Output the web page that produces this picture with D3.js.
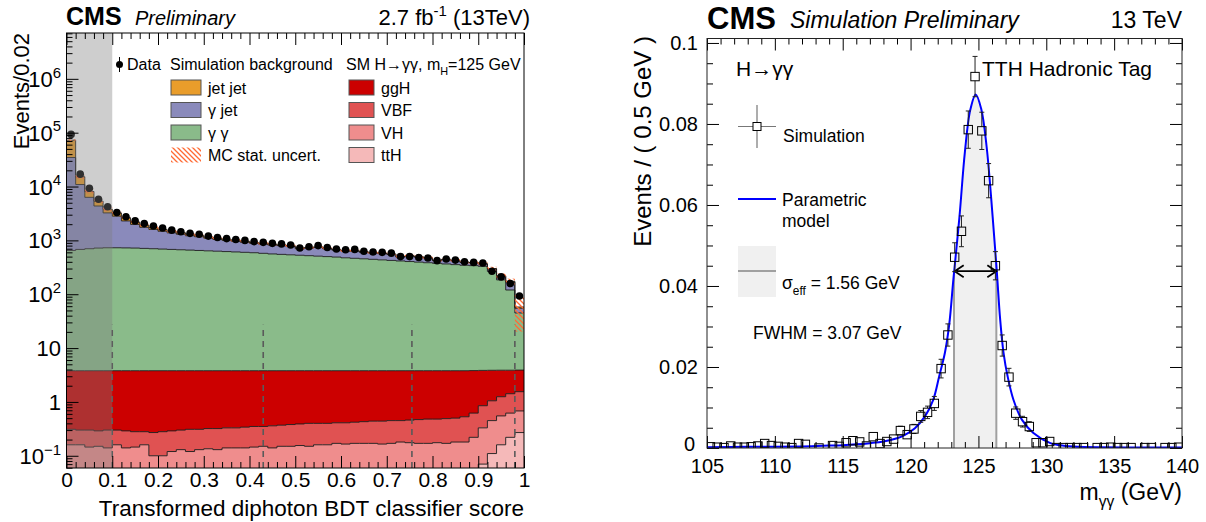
<!DOCTYPE html>
<html>
<head>
<meta charset="utf-8">
<script src="https://cdn.jsdelivr.net/npm/d3@7"></script>
<style>
  body { margin: 0; background: #fff; }
  svg text { font-family: "Liberation Sans", Arial, Helvetica, sans-serif; fill: #000; }
</style>
</head>
<body>
<svg id="chart" width="1206" height="522"></svg>
<script>
// ---------------- left panel: BDT score, 50 bins of 0.02 ----------------
const bdtData = [93000, 17000, 9300, 5800, 4200, 3300, 2750, 2300, 2050, 1850,
  1700, 1550, 1450, 1350, 1300, 1200, 1130, 1080, 1040, 1000,
  950, 920, 880, 860, 820, 720, 760, 800, 740, 690,
  670, 680, 630, 610, 600, 580, 500, 500, 480, 470,
  420, 450, 430, 400, 390, 380, 268, 210, 158, 93];

const jetJet = [38000, 4300, 1800, 1000, 560, 420, 340, 220, 180, 150,
  120, 100, 90, 80, 70, 60, 55, 50, 45, 40,
  35, 30, 28, 26, 24, 22, 20, 18, 17, 16,
  15, 14, 13, 12, 11, 10, 9, 9, 8, 8,
  7, 7, 6, 6, 5, 5, 5, 5, 6, 3];
const gammaJet = [33950, 10220, 5600, 3630, 2510, 2090, 1575, 1260, 1040, 900,
  790, 700, 630, 560, 520, 460, 410, 380, 350, 320,
  290, 275, 260, 250, 230, 170, 200, 230, 200, 170,
  155, 165, 145, 135, 135, 125, 75, 105, 95, 85,
  45, 75, 65, 45, 45, 35, 30, 30, 48, 10];
const gammaGamma = [646, 676, 696, 716, 726, 726, 721, 716, 706, 696,
  686, 676, 666, 656, 646, 636, 626, 616, 606, 596,
  586, 571, 556, 546, 536, 526, 516, 506, 496, 486,
  471, 461, 451, 441, 431, 421, 411, 401, 391, 381,
  371, 361, 351, 341, 336, 326, 261, 181, 116, 41];
const ggH = [3.49, 3.50, 3.50, 3.51, 3.50, 3.50, 3.51, 3.52, 3.52, 3.53,
  3.52, 3.51, 3.50, 3.49, 3.49, 3.48, 3.48, 3.47, 3.47, 3.46,
  3.45, 3.45, 3.44, 3.43, 3.42, 3.41, 3.40, 3.40, 3.40, 3.39,
  3.39, 3.38, 3.37, 3.36, 3.36, 3.35, 3.35, 3.34, 3.33, 3.32,
  3.32, 3.31, 3.30, 3.27, 3.20, 3.00, 2.82, 2.63, 2.46, 2.35];
const vbf = [0.15, 0.14, 0.155, 0.14, 0.16, 0.14, 0.15, 0.135, 0.12, 0.17,
  0.18, 0.17, 0.17, 0.19, 0.18, 0.185, 0.19, 0.19, 0.19, 0.20,
  0.205, 0.20, 0.22, 0.22, 0.23, 0.235, 0.25, 0.24, 0.24, 0.24,
  0.245, 0.25, 0.26, 0.27, 0.275, 0.28, 0.27, 0.285, 0.30, 0.31,
  0.305, 0.32, 0.32, 0.35, 0.40, 0.52, 0.60, 0.70, 0.80, 0.87];
const vh = [0.13, 0.13, 0.115, 0.12, 0.11, 0.13, 0.11, 0.115, 0.13, 0.07,
  0.07, 0.09, 0.10, 0.09, 0.10, 0.105, 0.10, 0.11, 0.11, 0.11,
  0.115, 0.12, 0.11, 0.12, 0.12, 0.125, 0.12, 0.13, 0.13, 0.14,
  0.135, 0.14, 0.14, 0.14, 0.135, 0.14, 0.15, 0.145, 0.14, 0.14,
  0.14, 0.135, 0.14, 0.135, 0.17, 0.26, 0.34, 0.39, 0.40, 0.41];
const ttH = [0.03, 0.03, 0.03, 0.03, 0.03, 0.03, 0.03, 0.03, 0.03, 0.03,
  0.03, 0.03, 0.03, 0.03, 0.03, 0.03, 0.03, 0.03, 0.03, 0.03,
  0.03, 0.03, 0.03, 0.03, 0.03, 0.03, 0.03, 0.03, 0.03, 0.03,
  0.03, 0.03, 0.03, 0.03, 0.03, 0.03, 0.03, 0.03, 0.03, 0.03,
  0.035, 0.035, 0.04, 0.045, 0.05, 0.07, 0.11, 0.16, 0.22, 0.27];
// relative MC statistical uncertainty on the stack total
const mcStatRel = [0.04, 0.08, 0.08, 0.08, 0.08, 0.05, 0.05, 0.05, 0.05, 0.05,
  0.05, 0.05, 0.05, 0.05, 0.05, 0.05, 0.05, 0.05, 0.05, 0.05,
  0.05, 0.05, 0.05, 0.05, 0.05, 0.05, 0.05, 0.05, 0.05, 0.05,
  0.05, 0.05, 0.05, 0.05, 0.05, 0.05, 0.05, 0.05, 0.05, 0.05,
  0.05, 0.05, 0.05, 0.05, 0.06, 0.07, 0.08, 0.10, 0.12, 0.65];
const categoryCuts = [0.1, 0.43, 0.755, 0.98];
const blindedRange = [0, 0.1];
const leftYTicks = [0.1, 1, 10, 100, 1e3, 1e4, 1e5, 1e6];

// ---------------- right panel: m_gg, 70 bins of 0.5 GeV ----------------
const simMass = d3.range(105.25, 140, 0.5);
const simValues = [0.0003, 0.0002, 0.0001, 0.0005, 0.0002, 0.0002, 0.0003, 0.0005, 0.0011, 0.0006,
  0.0004, 0.0002, 0.0001, 0.0011, 0.0009, null, 0, null, 0.0006, 0.0004,
  0.0013, 0.0018, 0.0015, 0.0005, 0.0028, 0.0011, 0.0016, 0.0022, 0.0043, 0.0033,
  0.0047, 0.0078, 0.0088, 0.0110, 0.0196, 0.0279, 0.0471, 0.0535, 0.0786, 0.0917,
  0.0783, 0.0660, 0.0450, 0.0253, 0.0175, 0.0086, 0.0065, 0.0053, 0.0013, 0.0013,
  0.0016, 0.0001, 0.0001, 0.0001, 0.0001, 0.0001, null, 0.0001, 0.0001, 0.0002,
  0.0001, 0.0001, 0.0001, null, 0.0001, 0.0001, null, 0.0001, 0.0001, 0.0002];
const simEventWeight = 2.7e-4; // error = sqrt(content * weight)

// parametric model
const modelMass = [105, 108, 110, 112, 114, 115, 116, 117, 118, 119, 119.45, 120.32, 121.06, 121.67,
  122.11, 122.53, 122.85, 123.15, 123.6, 124.0, 124.4, 124.8, 125.2, 125.6, 126.05, 126.35,
  126.6, 126.85, 127.15, 127.58, 128.2, 129.05, 130.3, 131, 132, 134, 137, 140];
const modelValues = [0.0002, 0.0003, 0.0003, 0.0004, 0.0006, 0.0007, 0.0009, 0.0012, 0.0016, 0.0024, 0.0030, 0.0049, 0.0078, 0.0119,
  0.0177, 0.0235, 0.0305, 0.0415, 0.0570, 0.0730, 0.0835, 0.0873, 0.0838, 0.0745, 0.0570, 0.0438,
  0.0318, 0.0235, 0.0177, 0.0119, 0.0070, 0.0037, 0.0012, 0.0007, 0.0004, 0.0002, 0.0001, 0.0001];
const sigmaEffRange = [123.2, 126.32];
const fwhmRange = [123.25, 126.32];
const rightXTicks = [105, 110, 115, 120, 125, 130, 135, 140];
const rightYTicks = [0, 0.02, 0.04, 0.06, 0.08, 0.1];

const svg = d3.select('#chart');
const defs = svg.append('defs');

// text with sub/superscripts
function addText(parent, x, y, parts, size, anchor, style) {
  const t = parent.append('text')
    .attr('x', x).attr('y', y)
    .attr('font-size', size)
    .attr('text-anchor', anchor || 'start');
  if (style) Object.keys(style).forEach(k => t.attr(k, style[k]));
  let shift = 0;
  parts.forEach(p => {
    const s = typeof p === 'string' ? { t: p } : p;
    const target = s.sub ? size * 0.32 : s.sup ? -size * 0.42 : 0;
    t.append('tspan')
      .attr('dy', target - shift)
      .attr('font-size', s.sub || s.sup ? size * 0.68 : size)
      .text(s.t);
    shift = target;
  });
  return t;
}

function styleTicks(g) {
  g.selectAll('.tick line').attr('stroke', '#000').attr('stroke-width', 1);
  g.select('.domain').remove();
}

// =================== LEFT PANEL ===================
const L = { left: 66.5, right: 524, top: 33, bottom: 468 };
const xL = d3.scaleLinear().domain([0, 1]).range([L.left, L.right]);
const yL = d3.scaleLog().domain([0.0593, 7.1e6]).range([L.bottom, L.top]);
const yFloor = yL.domain()[0] / 3;
const binW = 1 / bdtData.length;

defs.append('clipPath').attr('id', 'clipL')
  .append('rect').attr('x', L.left).attr('y', L.top)
  .attr('width', L.right - L.left).attr('height', L.bottom - L.top);

// hatch for MC stat. uncertainty
const hatch = defs.append('pattern').attr('id', 'hatch')
  .attr('patternUnits', 'userSpaceOnUse').attr('width', 5).attr('height', 5);
hatch.append('path').attr('d', 'M-1,-1 L6,6 M-1,4 L1,6 M4,-1 L6,1')
  .attr('stroke', '#ff6a33').attr('stroke-width', 1.3);

const stackKeys = ['tth', 'vh', 'vbf', 'ggh', 'gg', 'gj', 'jj'];
const stackSource = { tth: ttH, vh: vh, vbf: vbf, ggh: ggH, gg: gammaGamma, gj: gammaJet, jj: jetJet };
const stackColor = {
  tth: '#f5b9b9', vh: '#ef8d8d', vbf: '#e05252', ggh: '#cc0000',
  gg: '#8abb8a', gj: '#8a8abb', jj: '#e99d2b'
};
const rows = bdtData.map((_, i) => {
  const r = {};
  stackKeys.forEach(k => (r[k] = stackSource[k][i]));
  return r;
});
const stacked = d3.stack().keys(stackKeys)(rows);

const steps = s => s.flatMap((d, i) => [
  { x: i * binW, lo: d[0], hi: d[1] },
  { x: (i + 1) * binW, lo: d[0], hi: d[1] }
]);
const clampL = v => Math.max(v, yFloor);
const areaL = d3.area()
  .x(d => xL(d.x))
  .y0(d => yL(clampL(d.lo)))
  .y1(d => yL(clampL(d.hi)));
const lineL = d3.line()
  .x(d => xL(d.x))
  .y(d => yL(clampL(d.hi)));

const plotL = svg.append('g').attr('clip-path', 'url(#clipL)');

plotL.selectAll('.stack')
  .data(stacked)
  .join('path')
  .attr('class', 'stack')
  .attr('d', s => areaL(steps(s)))
  .attr('fill', s => stackColor[s.key]);

plotL.selectAll('.stackline')
  .data(stacked)
  .join('path')
  .attr('class', 'stackline')
  .attr('d', s => lineL(steps(s)))
  .attr('fill', 'none')
  .attr('stroke', '#1a1a1a')
  .attr('stroke-width', 0.9);

// MC stat uncertainty band around stack total
const totals = stacked[stacked.length - 1].map(d => d[1]);
plotL.selectAll('.unc')
  .data(totals)
  .join('rect')
  .attr('class', 'unc')
  .attr('x', (d, i) => xL(i * binW))
  .attr('width', xL(binW) - xL(0))
  .attr('y', (d, i) => yL(d * (1 + mcStatRel[i])))
  .attr('height', (d, i) => yL(d * (1 - mcStatRel[i])) - yL(d * (1 + mcStatRel[i])))
  .attr('fill', 'url(#hatch)');

// category boundaries
plotL.selectAll('.cut')
  .data(categoryCuts)
  .join('line')
  .attr('class', 'cut')
  .attr('x1', d => xL(d)).attr('x2', d => xL(d))
  .attr('y1', L.bottom).attr('y2', yL(27))
  .attr('stroke', '#5a5a5a')
  .attr('stroke-width', 1.6)
  .attr('stroke-dasharray', '6,5');

// data with poisson error bars
const dataG = plotL.append('g');
dataG.selectAll('line')
  .data(bdtData)
  .join('line')
  .attr('x1', (d, i) => xL((i + 0.5) * binW))
  .attr('x2', (d, i) => xL((i + 0.5) * binW))
  .attr('y1', d => yL(d + Math.sqrt(d)))
  .attr('y2', d => yL(d - Math.sqrt(d)))
  .attr('stroke', '#000').attr('stroke-width', 1);
dataG.selectAll('circle')
  .data(bdtData)
  .join('circle')
  .attr('cx', (d, i) => xL((i + 0.5) * binW))
  .attr('cy', d => yL(d))
  .attr('r', 3.8)
  .attr('fill', '#000');

// blinded / control region shading
plotL.append('rect')
  .attr('x', xL(blindedRange[0]))
  .attr('width', xL(blindedRange[1]) - xL(blindedRange[0]))
  .attr('y', L.top).attr('height', L.bottom - L.top)
  .attr('fill', '#7f7f7f').attr('opacity', 0.38);

// axes
const xMajorL = d3.range(0, 11).map(i => i / 10);
const xMinorL = d3.range(0, 51).map(i => i / 50).filter((d, i) => i % 5 !== 0);
svg.append('g').attr('transform', `translate(0,${L.bottom})`)
  .call(d3.axisBottom(xL).tickValues(xMajorL).tickSize(-12).tickPadding(4)
    .tickFormat(d => d3.format('~g')(+d.toFixed(1))))
  .call(styleTicks)
  .call(g => g.selectAll('text').attr('font-size', 21).attr('font-family', null));
svg.append('g').attr('transform', `translate(0,${L.bottom})`)
  .call(d3.axisBottom(xL).tickValues(xMinorL).tickSize(-6).tickFormat(''))
  .call(styleTicks);
svg.append('g').attr('transform', `translate(0,${L.top})`)
  .call(d3.axisTop(xL).tickValues(xMajorL).tickSize(-12).tickFormat(''))
  .call(styleTicks);
svg.append('g').attr('transform', `translate(0,${L.top})`)
  .call(d3.axisTop(xL).tickValues(xMinorL).tickSize(-6).tickFormat(''))
  .call(styleTicks);

const yMinorL = [];
d3.range(-2, 7).forEach(e => d3.range(2, 10).forEach(m => {
  const v = m * Math.pow(10, e);
  if (v > yL.domain()[0] && v < yL.domain()[1]) yMinorL.push(v);
}));
svg.append('g').attr('transform', `translate(${L.left},0)`)
  .call(d3.axisLeft(yL).tickValues(leftYTicks).tickSize(-12).tickFormat(''))
  .call(styleTicks);
svg.append('g').attr('transform', `translate(${L.left},0)`)
  .call(d3.axisLeft(yL).tickValues(yMinorL).tickSize(-6).tickFormat(''))
  .call(styleTicks);

const yLabelsL = svg.append('g');
leftYTicks.forEach(v => {
  const e = Math.round(Math.log10(v));
  let parts;
  if (e === 0) parts = ['1'];
  else if (e === 1) parts = ['10'];
  else parts = ['10', { t: e < 0 ? '\u2212' + (-e) : String(e), sup: true }];
  addText(yLabelsL, 61, yL(v) + 8, parts, 22, 'end');
});

svg.append('rect')
  .attr('x', L.left).attr('y', L.top)
  .attr('width', L.right - L.left).attr('height', L.bottom - L.top)
  .attr('fill', 'none').attr('stroke', '#000').attr('stroke-width', 1);

// titles
addText(svg, 66, 25, ['CMS'], 25, 'start', { 'font-weight': 'bold' });
addText(svg, 135, 25, ['Preliminary'], 20, 'start', { 'font-style': 'italic' });
addText(svg, 530, 25, ['2.7 fb', { t: '-1', sup: true }, ' (13TeV)'], 22, 'end');
addText(svg, 524, 516, ['Transformed diphoton BDT classifier score'], 22.5, 'end');
addText(svg, 0, 0, ['Events/0.02'], 22, 'end')
  .attr('transform', 'translate(29,33) rotate(-90)');

// legend
const legL = svg.append('g');
legL.append('line').attr('x1', 119.5).attr('x2', 119.5).attr('y1', 57).attr('y2', 72)
  .attr('stroke', '#000');
legL.append('circle').attr('cx', 119.5).attr('cy', 64.5).attr('r', 3.5).attr('fill', '#000');
addText(legL, 127, 70, ['Data'], 16);
addText(legL, 170, 70, ['Simulation background'], 16);
addText(legL, 346, 70, ['SM H\u2192\u03b3\u03b3, m', { t: 'H', sub: true }, '=125 GeV'], 16);

const legRowsL = [
  { key: 'jj', label: 'jet jet', col: 0, row: 0 },
  { key: 'gj', label: '\u03b3 jet', col: 0, row: 1 },
  { key: 'gg', label: '\u03b3 \u03b3', col: 0, row: 2 },
  { key: 'unc', label: 'MC stat. uncert.', col: 0, row: 3 },
  { key: 'ggh', label: 'ggH', col: 1, row: 0 },
  { key: 'vbf', label: 'VBF', col: 1, row: 1 },
  { key: 'vh', label: 'VH', col: 1, row: 2 },
  { key: 'tth', label: 'ttH', col: 1, row: 3 }
];
legRowsL.forEach(r => {
  const bx = r.col === 0 ? 171 : 349;
  const bw = r.col === 0 ? 30 : 25;
  const cy = 87.5 + r.row * 22.5;
  legL.append('rect')
    .attr('x', bx).attr('y', cy - 7.5).attr('width', bw).attr('height', 15)
    .attr('fill', r.key === 'unc' ? 'url(#hatch)' : stackColor[r.key])
    .attr('stroke', r.key === 'unc' ? 'none' : '#555').attr('stroke-width', 1);
  addText(legL, bx + bw + 7, cy + 6, [r.label], 16);
});

// =================== RIGHT PANEL ===================
const R = { left: 707, right: 1182, top: 38.5, bottom: 448 };
const xR = d3.scaleLinear().domain([105, 140]).range([R.left, R.right]);
const yR = d3.scaleLinear().domain([0, 0.1011]).range([R.bottom, R.top]);

const model = modelMass.map((m, i) => ({ m, v: modelValues[i] }));
const modelCurve = d3.curveCatmullRom.alpha(0.5);
const modelLine = d3.line().x(d => xR(d.m)).y(d => yR(d.v)).curve(modelCurve);
const modelArea = d3.area().x(d => xR(d.m)).y0(yR(0)).y1(d => yR(d.v)).curve(modelCurve);

defs.append('clipPath').attr('id', 'underModel')
  .append('path').attr('d', modelArea(model));
defs.append('clipPath').attr('id', 'clipR')
  .append('rect').attr('x', R.left).attr('y', R.top)
  .attr('width', R.right - R.left).attr('height', R.bottom - R.top);

const plotR = svg.append('g').attr('clip-path', 'url(#clipR)');
const bandG = plotR.append('g').attr('clip-path', 'url(#underModel)');
bandG.append('rect')
  .attr('x', xR(sigmaEffRange[0])).attr('width', xR(sigmaEffRange[1]) - xR(sigmaEffRange[0]))
  .attr('y', R.top).attr('height', R.bottom - R.top)
  .attr('fill', '#f0f0f0');
bandG.selectAll('line')
  .data(sigmaEffRange)
  .join('line')
  .attr('x1', d => xR(d)).attr('x2', d => xR(d))
  .attr('y1', R.top).attr('y2', R.bottom)
  .attr('stroke', '#a0a0a0').attr('stroke-width', 2);

plotR.append('path')
  .attr('d', modelLine(model))
  .attr('fill', 'none').attr('stroke', '#0000ff').attr('stroke-width', 2);

// FWHM arrow
const halfMax = d3.max(modelValues) / 2;
const ay = yR(halfMax);
const ax0 = xR(fwhmRange[0]), ax1 = xR(fwhmRange[1]);
plotR.append('path')
  .attr('d', `M${ax0},${ay}L${ax1},${ay}M${ax0 + 9},${ay - 6}L${ax0},${ay}L${ax0 + 9},${ay + 6}` +
    `M${ax1 - 9},${ay - 6}L${ax1},${ay}L${ax1 - 9},${ay + 6}`)
  .attr('fill', 'none').attr('stroke', '#000').attr('stroke-width', 1.8);

// simulation points
const sim = simMass.map((m, i) => ({ m, v: simValues[i] })).filter(d => d.v !== null);
const half = 4.2;
const simG = plotR.append('g');
sim.forEach(d => {
  const e = Math.sqrt(d.v * simEventWeight);
  const cx = xR(d.m), cy = yR(d.v);
  const top = yR(d.v + e), bot = yR(d.v - e);
  const segs = [];
  if (top < cy - half) segs.push(`M${cx},${top}L${cx},${cy - half}M${cx - 2.5},${top}L${cx + 2.5},${top}`);
  if (bot > cy + half) segs.push(`M${cx},${cy + half}L${cx},${bot}M${cx - 2.5},${bot}L${cx + 2.5},${bot}`);
  if (segs.length) {
    simG.append('path').attr('d', segs.join('')).attr('stroke', '#222').attr('stroke-width', 1).attr('fill', 'none');
  }
  simG.append('rect')
    .attr('x', cx - half).attr('y', cy - half).attr('width', 2 * half).attr('height', 2 * half)
    .attr('fill', 'none').attr('stroke', '#000').attr('stroke-width', 1);
});

// axes
const xMinorR = d3.range(105, 141).filter(d => d % 5 !== 0);
const yMinorR = d3.range(0, 21).map(i => i * 0.005).filter((d, i) => i % 4 !== 0);
svg.append('g').attr('transform', `translate(0,${R.bottom})`)
  .call(d3.axisBottom(xR).tickValues(rightXTicks).tickSize(-12).tickPadding(11).tickFormat(d3.format('d')))
  .call(styleTicks)
  .call(g => g.selectAll('text').attr('font-size', 20).attr('font-family', null));
svg.append('g').attr('transform', `translate(0,${R.bottom})`)
  .call(d3.axisBottom(xR).tickValues(xMinorR).tickSize(-6).tickFormat(''))
  .call(styleTicks);
svg.append('g').attr('transform', `translate(0,${R.top})`)
  .call(d3.axisTop(xR).tickValues(rightXTicks).tickSize(-12).tickFormat(''))
  .call(styleTicks);
svg.append('g').attr('transform', `translate(0,${R.top})`)
  .call(d3.axisTop(xR).tickValues(xMinorR).tickSize(-6).tickFormat(''))
  .call(styleTicks);
svg.append('g').attr('transform', `translate(${R.left},0)`)
  .call(d3.axisLeft(yR).tickValues(rightYTicks).tickSize(-12).tickPadding(9)
    .tickFormat(d => d === 0 ? '0' : String(+d.toFixed(2))))
  .call(styleTicks)
  .call(g => g.selectAll('text').attr('font-size', 20).attr('font-family', null))
  .call(g => g.selectAll('.tick').filter(d => d === 0).select('text')
    .attr('dy', '0.1em').attr('x', -12));
svg.append('g').attr('transform', `translate(${R.left},0)`)
  .call(d3.axisLeft(yR).tickValues(yMinorR).tickSize(-6).tickFormat(''))
  .call(styleTicks);
svg.append('g').attr('transform', `translate(${R.right},0)`)
  .call(d3.axisRight(yR).tickValues(rightYTicks).tickSize(-12).tickFormat(''))
  .call(styleTicks);
svg.append('g').attr('transform', `translate(${R.right},0)`)
  .call(d3.axisRight(yR).tickValues(yMinorR).tickSize(-6).tickFormat(''))
  .call(styleTicks);

svg.append('rect')
  .attr('x', R.left).attr('y', R.top)
  .attr('width', R.right - R.left).attr('height', R.bottom - R.top)
  .attr('fill', 'none').attr('stroke', '#222').attr('stroke-width', 1);

// titles
addText(svg, 707, 29, ['CMS'], 31, 'start', { 'font-weight': 'bold' });
addText(svg, 790, 28, ['Simulation Preliminary'], 23, 'start', { 'font-style': 'italic' });
addText(svg, 1182, 28, ['13 TeV'], 23, 'end');
addText(svg, 1182, 500, ['m', { t: '\u03b3\u03b3', sub: true }, ' (GeV)'], 23, 'end');
addText(svg, 0, 0, ['Events / ( 0.5 GeV )'], 24, 'end')
  .attr('transform', 'translate(651,36) rotate(-90)');
addText(svg, 736, 76, ['H\u2192\u03b3\u03b3'], 21);
addText(svg, 982, 76, ['TTH Hadronic Tag'], 21);

// legend
const legR = svg.append('g');
legR.append('path')
  .attr('d', 'M757,105L757,148M738,126.5L776,126.5')
  .attr('stroke', '#777').attr('stroke-width', 1.2);
legR.append('rect').attr('x', 753).attr('y', 122.5).attr('width', 8).attr('height', 8)
  .attr('fill', '#fff').attr('stroke', '#000');
addText(legR, 783, 142, ['Simulation'], 17.5);
legR.append('line').attr('x1', 738).attr('x2', 776).attr('y1', 199).attr('y2', 199)
  .attr('stroke', '#0000ff').attr('stroke-width', 2);
addText(legR, 782, 206, ['Parametric'], 17.5);
addText(legR, 782, 227, ['model'], 17.5);
legR.append('rect').attr('x', 738).attr('y', 246).attr('width', 38).attr('height', 51)
  .attr('fill', '#f0f0f0');
legR.append('line').attr('x1', 738).attr('x2', 776).attr('y1', 271).attr('y2', 271)
  .attr('stroke', '#a0a0a0').attr('stroke-width', 2);
addText(legR, 782, 289, ['\u03c3', { t: 'eff', sub: true }, ' = 1.56 GeV'], 17.5);
addText(legR, 753, 339, ['FWHM = 3.07 GeV'], 17.5);
</script>
</body>
</html>
